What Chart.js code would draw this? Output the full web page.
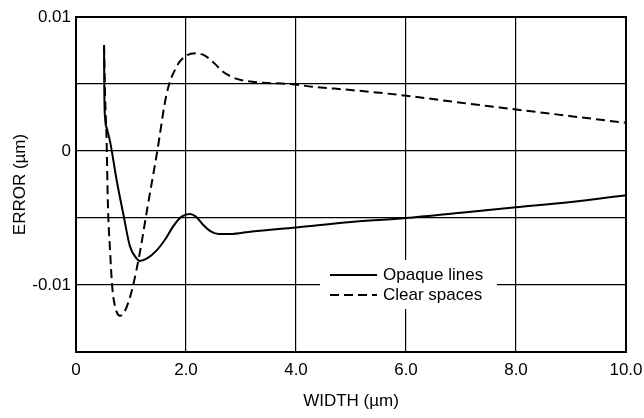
<!DOCTYPE html>
<html>
<head>
<meta charset="utf-8">
<script src="https://cdn.jsdelivr.net/npm/chart.js@4.4.1/dist/chart.umd.min.js"></script>
<style>
	html, body { margin: 0; padding: 0; background: #fff; }
	#wrap { width: 644px; height: 418px; }
</style>
</head>
<body>
<div id="wrap"><canvas id="myChart" width="644" height="418"></canvas></div>
<script>
// width (um) vs error (um)
const opaqueWidth = [0.51, 0.515, 0.53, 0.56, 0.62, 0.74, 0.86, 0.98, 1.08, 1.16, 1.30, 1.47, 1.62, 1.77, 1.92, 2.07, 2.18, 2.31, 2.45, 2.60, 2.80, 3.2, 4.0, 5.0, 6.0, 7.0, 8.0, 9.0, 10.0]
const opaqueError = [0.0079, 0.0045, 0.0024, 0.0017, 0.0007, -0.0022, -0.0047, -0.0071, -0.0079, -0.0082, -0.0080, -0.0074, -0.0066, -0.0056, -0.0049, -0.0047, -0.0049, -0.0055, -0.0060, -0.0062, -0.0062, -0.0060, -0.0057, -0.0053, -0.0050, -0.0046, -0.0042, -0.0038, -0.0033]

const clearWidth = [0.51, 0.53, 0.555, 0.58, 0.62, 0.66, 0.71, 0.80, 0.88, 0.96, 1.04, 1.16, 1.30, 1.47, 1.65, 1.83, 2.0, 2.19, 2.35, 2.5, 2.68, 2.85, 3.0, 3.4, 3.9, 4.3, 5.0, 6.0, 7.0, 8.0, 9.0, 10.0]
const clearError = [0.0079, 0.0040, 0.0010, -0.0040, -0.0075, -0.0102, -0.0116, -0.0123, -0.0120, -0.0112, -0.0100, -0.0076, -0.0042, -0.0002, 0.0043, 0.0063, 0.0071, 0.0073, 0.0071, 0.0066, 0.0059, 0.0055, 0.0053, 0.0051, 0.0050, 0.0048, 0.00455, 0.00413, 0.0036, 0.0031, 0.0026, 0.0021]

const seriesNames = ['Opaque lines', 'Clear spaces']

const xTickValues = [0, 2, 4, 6, 8, 10]
const xTickLabels = ['0', '2.0', '4.0', '6.0', '8.0', '10.0']
const yTickValues = [0.01, 0, -0.01]
const yTickLabels = ['0.01', '0', '-0.01']

const FONT = '"Liberation Sans", Arial, Helvetica, sans-serif'

const toPoints = (xs, ys) => xs.map((x, i) => ({ x: x, y: ys[i] }))

// frame + legend drawn on top of the chart area
const framePlugin = {
	id: 'frame',
	afterDatasetsDraw(chart) {
		const { ctx, chartArea: a } = chart
		ctx.save()
		ctx.strokeStyle = '#000'
		ctx.lineWidth = 2
		ctx.strokeRect(a.left, a.top, a.right - a.left, a.bottom - a.top)

		// legend box (white, covers grid)
		const bx = 320, by = 260, bw = 177, bh = 49
		ctx.fillStyle = '#fff'
		ctx.fillRect(bx, by, bw, bh)
		chart.data.datasets.forEach((ds, i) => {
			const y = 275 + i * 20
			ctx.beginPath()
			ctx.setLineDash(ds.borderDash || [])
			ctx.lineWidth = 2
			ctx.strokeStyle = '#000'
			ctx.moveTo(330, y)
			ctx.lineTo(377, y)
			ctx.stroke()
			ctx.setLineDash([])
			ctx.fillStyle = '#000'
			ctx.font = '17px ' + FONT
			ctx.textBaseline = 'middle'
			ctx.fillText(ds.label, 383, y)
		})
		ctx.restore()
	},
}

const ctx = document.getElementById('myChart').getContext('2d')
const myChart = new Chart(ctx, {
	type: 'line',
	data: {
		datasets: [
			{
				label: seriesNames[0],
				data: toPoints(opaqueWidth, opaqueError),
				borderColor: '#000',
				borderWidth: 2,
				pointRadius: 0,
				cubicInterpolationMode: 'monotone',
				fill: false,
			},
			{
				label: seriesNames[1],
				data: toPoints(clearWidth, clearError),
				borderColor: '#000',
				borderWidth: 2,
				borderDash: [9, 5],
				pointRadius: 0,
				cubicInterpolationMode: 'monotone',
				fill: false,
			},
		],
	},
	options: {
		responsive: false,
		animation: false,
		layout: { padding: { top: 17, right: 18, left: 0, bottom: 0 } },
		plugins: {
			legend: { display: false },
			tooltip: { enabled: false },
		},
		scales: {
			x: {
				type: 'linear',
				min: 0,
				max: 10,
				afterFit: (s) => {
					s.height = 66
					s.paddingLeft = 0
					s.paddingRight = 0
				},
				afterBuildTicks: (s) => { s.ticks = xTickValues.map((v) => ({ value: v })) },
				grid: { color: '#000', lineWidth: 1.2, drawTicks: false },
				border: { color: '#000', width: 2 },
				ticks: {
					color: '#000',
					padding: 8,
					maxRotation: 0,
					font: { family: FONT, size: 17 },
					callback: (v) => xTickLabels[xTickValues.indexOf(v)],
				},
				title: {
					display: true,
					text: 'WIDTH (µm)',
					color: '#000',
					font: { family: FONT, size: 17 },
					padding: { top: 0, bottom: 6 },
				},
			},
			y: {
				type: 'linear',
				min: -0.015,
				max: 0.01,
				afterFit: (s) => { s.width = 76 },
				ticks: {
					stepSize: 0.005,
					color: '#000',
					padding: 5,
					font: { family: FONT, size: 17 },
					callback: (v) => {
						const k = yTickValues.findIndex((t) => Math.abs(t - v) < 1e-6)
						return k >= 0 ? yTickLabels[k] : ''
					},
				},
				grid: { color: '#000', lineWidth: 1.2, drawTicks: false },
				border: { color: '#000', width: 2 },
				title: {
					display: true,
					text: 'ERROR (µm)',
					color: '#000',
					font: { family: FONT, size: 17 },
					padding: { top: 10, bottom: 0 },
				},
			},
		},
	},
	plugins: [framePlugin],
})
</script>
</body>
</html>
